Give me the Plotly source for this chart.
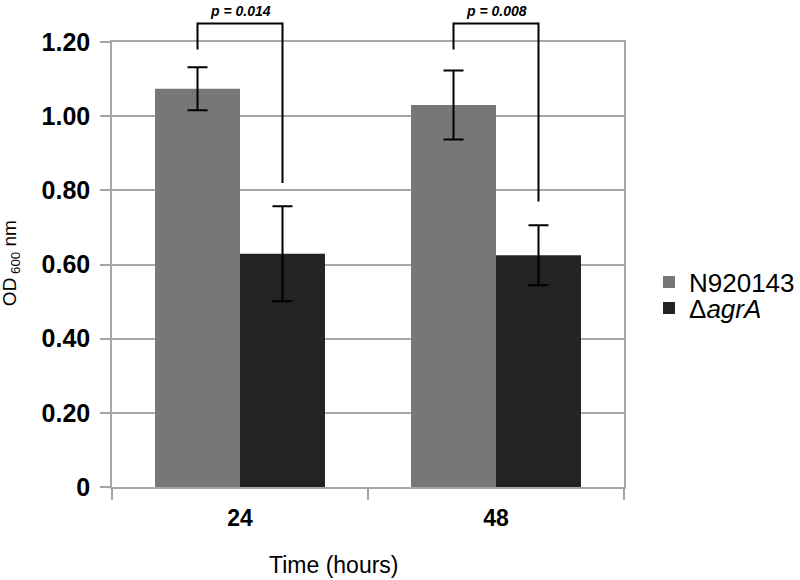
import plotly.graph_objects as go

categories = ["24", "48"]
series_names = ["N920143", "Δ<i>agrA</i>"]
wt_values = [1.074, 1.030]
wt_errors = [0.058, 0.093]
mut_values = [0.629, 0.625]
mut_errors = [0.128, 0.081]
p_labels = ["p = 0.014", "p = 0.008"]
bracket_top = [1.25, 1.25]
bracket_left_end = [1.18, 1.18]
bracket_right_end = [0.82, 0.77]
y_tickvals = [0, 0.2, 0.4, 0.6, 0.8, 1.0, 1.2]
y_ticktext = ["0", "0.20", "0.40", "0.60", "0.80", "1.00", "1.20"]

Y_MAX = 1.2
BARGAP = 0.336
FONT = "Liberation Sans, Arial, sans-serif"
GRID = "#a6a6a6"

fig = go.Figure()
fig.add_trace(go.Bar(
    x=categories, y=wt_values, name=series_names[0], legend="legend",
    marker=dict(color="#777777", line=dict(width=0)),
    error_y=dict(type="data", array=wt_errors, color="black", thickness=2, width=10),
))
fig.add_trace(go.Bar(
    x=categories, y=mut_values, name=series_names[1], legend="legend2",
    marker=dict(color="#232323", line=dict(width=0)),
    error_y=dict(type="data", array=mut_errors, color="black", thickness=2, width=10),
))

# significance brackets (axis-domain coordinates derived from category index & bar layout)
n = len(categories)
half = (1 - BARGAP) / 4
def xdom(v):
    return (v + 0.5) / n

shapes = []
annotations = []
for i in range(n):
    xl = xdom(i - half)
    xr = xdom(i + half)
    yt = bracket_top[i] / Y_MAX
    shapes.append(dict(type="path", xref="x domain", yref="y domain",
                       path=f"M {xl},{bracket_left_end[i]/Y_MAX} L {xl},{yt} L {xr},{yt} L {xr},{bracket_right_end[i]/Y_MAX}",
                       line=dict(color="black", width=2)))
    annotations.append(dict(text=f"<b><i>{p_labels[i]}</i></b>", xref="x domain", yref="y domain",
                            x=xdom(i), y=yt, xanchor="center", yanchor="bottom", yshift=2, showarrow=False,
                            font=dict(family=FONT, size=14, color="black")))

annotations.append(dict(text="Time (hours)", xref="paper", yref="paper", x=(334-112)/512, y=(487-565)/445.3,
                        xanchor="center", yanchor="middle", showarrow=False,
                        font=dict(family=FONT, size=23, color="black")))
annotations.append(dict(text="OD<sub> 600</sub> nm", xref="paper", yref="paper", x=(11-112)/512, y=(487-263)/445.3,
                        xanchor="center", yanchor="middle", textangle=-90, showarrow=False,
                        font=dict(family=FONT, size=19, color="black")))

legend_common = dict(xref="container", yref="container", xanchor="left", yanchor="middle",
                     bgcolor="rgba(0,0,0,0)", font=dict(family=FONT, size=26, color="black"), itemwidth=30)

fig.update_layout(
    width=800, height=580,
    margin=dict(l=112, r=176, t=42, b=93),
    paper_bgcolor="white", plot_bgcolor="white",
    barmode="group", bargap=BARGAP, bargroupgap=0,
    font=dict(family=FONT, color="black"),
    showlegend=True,
    legend=dict(x=649/800, y=(580-282)/580, **legend_common),
    legend2=dict(x=649/800, y=(580-308)/580, **legend_common),
    shapes=shapes, annotations=annotations,
    xaxis=dict(type="category", tickson="boundaries", ticks="outside", ticklen=11, tickcolor=GRID,
               tickwidth=1.5, showline=True, linecolor=GRID, linewidth=1.5, mirror=True,
               showgrid=False, tickfont=dict(family=FONT, size=23, color="black"),
               tickprefix="<b>", ticksuffix="</b>", ticklabelstandoff=10, automargin=False),
    yaxis=dict(range=[0, Y_MAX], tickvals=y_tickvals, ticktext=[f"<b>{t}</b>" for t in y_ticktext],
               ticks="outside", ticklen=10, tickcolor=GRID, tickwidth=1.5,
               showline=True, linecolor=GRID, linewidth=1.5, mirror=True,
               showgrid=True, gridcolor=GRID, gridwidth=1.5, zeroline=False,
               tickfont=dict(family=FONT, size=25, color="black"), ticklabelstandoff=5, automargin=False),
)

fig.write_html("out.html", config={"responsive": False, "displayModeBar": False},
               post_script="document.body.style.margin='0';document.body.style.padding='0';")
